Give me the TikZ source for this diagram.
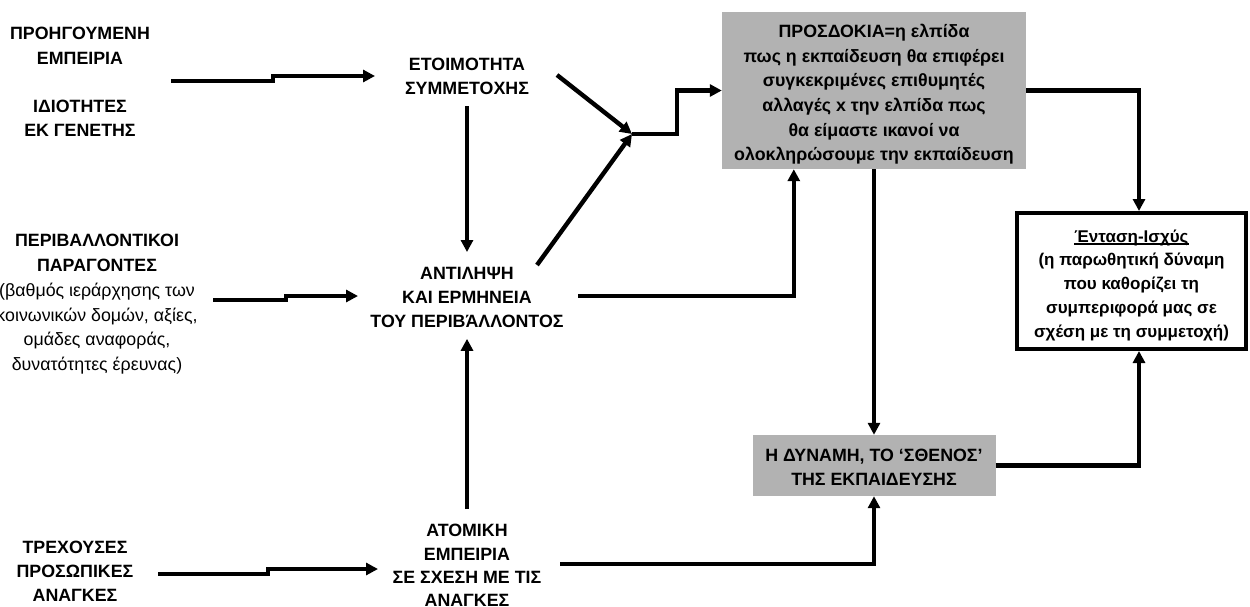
\documentclass[tikz,border=0pt]{standalone}
\usepackage{fontspec}
\setmainfont{Liberation Sans}
\usetikzlibrary{arrows.meta,calc}
\definecolor{boxgrey}{gray}{0.70}
% underline drawn close to the baseline, through the descenders
\newcommand\ulrule[1]{\setbox0\hbox{#1}\rlap{\rule[-2.6pt]{\wd0}{1.3pt}}\box0}
% invisible strut that pushes a text block down inside its box
\newcommand\topstrut[1]{\rule{0pt}{#1}}

\begin{document}
\begin{tikzpicture}[x=1pt,y=-1pt,
  fs/.style={font=\fontsize{17.8}{#1}\selectfont\bfseries},
  txt/.style={fs=#1, align=center, inner sep=0pt, anchor=north},
  greybox/.style={fill=boxgrey, inner sep=0pt, align=center},
  conn/.style={line width=4.4pt, -{Triangle[length=12pt,width=12pt]}}
]
\useasboundingbox (0,0) rectangle (1250,606);

% ---- sources on the left
\node[txt=24.6] (prev) at (80,27) {ΠΡΟΗΓΟΥΜΕΝΗ\\ΕΜΠΕΙΡΙΑ};
\node[txt=24] (gen) at (80,100) {ΙΔΙΟΤΗΤΕΣ\\ΕΚ ΓΕΝΕΤΗΣ};
\node[txt=24.8] (env) at (97,234) {ΠΕΡΙΒΑΛΛΟΝΤΙΚΟΙ\\ΠΑΡΑΓΟΝΤΕΣ\\
  \mdseries (βαθμός ιεράρχησης των\\
  \mdseries κοινωνικών δομών, αξίες,\\
  \mdseries ομάδες αναφοράς,\\
  \mdseries δυνατότητες έρευνας)};
\node[txt=24] (needs) at (75,541) {ΤΡΕΧΟΥΣΕΣ\\ΠΡΟΣΩΠΙΚΕΣ\\ΑΝΑΓΚΕΣ};

% ---- middle column
\node[txt=24] (ready) at (467,58) {ΕΤΟΙΜΟΤΗΤΑ\\ΣΥΜΜΕΤΟΧΗΣ};
\node[txt=24] (perc) at (467,267) {ΑΝΤΙΛΗΨΗ\\ΚΑΙ ΕΡΜΗΝΕΙΑ\\ΤΟΥ ΠΕΡΙΒΆΛΛΟΝΤΟΣ};
\node[txt=23.4] (indiv) at (467,524) {ΑΤΟΜΙΚΗ\\ΕΜΠΕΙΡΙΑ\\ΣΕ ΣΧΕΣΗ ΜΕ ΤΙΣ\\ΑΝΑΓΚΕΣ};

% ---- boxes
\node[greybox, fs=24.6, minimum width=304pt, minimum height=157pt] (expect) at (874,90.5)
  {\topstrut{21pt}ΠΡΟΣΔΟΚΙΑ=η ελπίδα\\πως η εκπαίδευση θα επιφέρει\\συγκεκριμένες επιθυμητές\\
   αλλαγές x την ελπίδα πως\\θα είμαστε ικανοί να\\ολοκληρώσουμε την εκπαίδευση};
\node[greybox, fs=24, minimum width=243pt, minimum height=61pt] (power) at (874,465.5)
  {\topstrut{15pt}Η ΔΥΝΑΜΗ, ΤΟ ‘ΣΘΕΝΟΣ’\\ΤΗΣ ΕΚΠΑΙΔΕΥΣΗΣ};
\node[draw, line width=4pt, fill=white, inner sep=0pt, align=center,
      font=\fontsize{17}{23.75}\selectfont\bfseries,
      minimum width=229pt, minimum height=136pt] (tension) at (1131.5,281)
  {\topstrut{20.6pt}\ulrule{Ένταση-Ισχύς}\\(η παρωθητική δύναμη\\που καθορίζει τη\\
   συμπεριφορά μας σε\\σχέση με τη συμμετοχή)};

% ---- free ends of the connectors
\coordinate (prev-out) at (171,81);
\coordinate (ready-in) at (375,76);
\coordinate (env-out) at (213,300);
\coordinate (perc-in) at (358,296);
\coordinate (needs-out) at (158,574);
\coordinate (indiv-in) at (378,569);
\coordinate (ready-diag) at (557,75);
\coordinate (perc-diag) at (537,265);
\coordinate (join) at (632,134);
\coordinate (perc-out) at (578,296);
\coordinate (indiv-out) at (560,564);

% ---- stepped inputs
\draw[conn] (prev-out) -- (273,81) -- (273,76) -- (ready-in);
\draw[conn] (env-out) -- (286,300) -- (286,296) -- (perc-in);
\draw[conn] (needs-out) -- (268,574) -- (268,569) -- (indiv-in);

% ---- vertical links in the middle column
\draw[conn] ([yshift=-11pt]ready.south) -- ([yshift=15pt]perc.north);
\draw[conn] ([yshift=15pt]indiv.north) -- ([yshift=-11pt]perc.south);

% ---- converging arrows into the expectation box
\draw[conn] (ready-diag) -- (join);
\draw[conn] (perc-diag) -- (join);
\draw[conn] (join) -- (677,134) |- (expect.west);
\draw[conn] (perc-out) -| ($(expect.south west)+(72,0)$);

% ---- right-hand part
\draw[conn] (expect.south) -- (power.north);
\draw[conn] (indiv-out) -| (power.south);
\draw[conn] (expect.east) -| ($(tension.north)+(7.5,0)$);
\draw[conn] (power.east) -| ($(tension.south)+(7.5,0)$);
\end{tikzpicture}
\end{document}
